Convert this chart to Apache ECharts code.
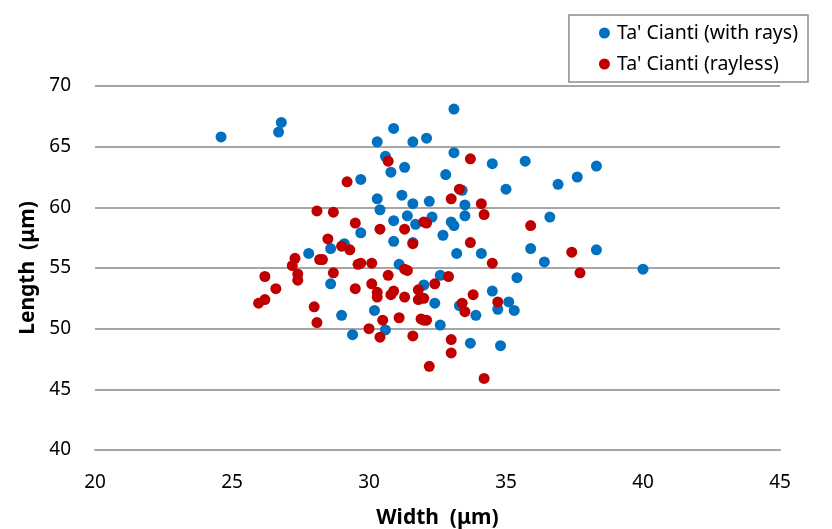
<!DOCTYPE html>
<html><head><meta charset="utf-8">
<script src="https://cdn.jsdelivr.net/npm/echarts@6/dist/echarts.min.js"></script>
<style>html,body{margin:0;padding:0;background:#fff}#c{width:832px;height:529px}</style>
</head><body><div id="c"></div>
<script>
const seriesNames = ["Ta' Cianti (with rays)", "Ta' Cianti (rayless)"];
const xTicks = [20, 25, 30, 35, 40, 45];
const yTicks = [40, 45, 50, 55, 60, 65, 70];
const withRays = [
[24.6,65.8],[26.7,66.2],[26.8,67.0],[29.7,62.3],[33.1,68.1],[30.9,66.5],[30.3,65.4],[31.6,65.4],[32.1,65.7],[30.6,64.2],[33.1,64.5],[34.5,63.6],[31.3,63.3],[30.8,62.9],[32.8,62.7],[35.0,61.5],[33.4,61.4],[30.3,60.7],[31.2,61.0],[31.6,60.3],[32.2,60.5],[33.5,60.2],[30.4,59.8],[33.5,59.3],[31.4,59.3],[32.3,59.2],[33.0,58.8],[33.1,58.5],[31.7,58.6],[30.9,58.9],[29.7,57.9],[32.7,57.7],[30.9,57.2],[31.6,57.1],
[35.7,63.8],[38.3,63.4],[37.6,62.5],[36.9,61.9],[36.6,59.2],
[35.9,56.6],[38.3,56.5],[36.4,55.5],[40.0,54.9],[35.4,54.2],[35.3,51.5],
[33.2,56.2],[34.1,56.2],[31.1,55.3],[32.6,54.4],[32.0,53.6],[34.5,53.1],[32.4,52.1],[33.3,51.9],[33.9,51.1],[34.7,51.6],[35.1,52.2],[30.2,51.5],[30.6,49.9],[32.6,50.3],[33.7,48.8],[34.8,48.6],
[29.1,57.0],[28.6,56.6],[27.8,56.2],[28.6,53.7],[29.0,51.1],[29.4,49.5]
];
const rayless = [
[30.7,63.8],[33.7,64.0],[33.3,61.5],[33.0,60.7],[34.1,60.3],[34.2,59.4],[29.5,58.7],[30.4,58.2],[31.3,58.2],[32.0,58.8],[32.1,58.7],[31.6,57.0],[33.7,57.1],[35.9,58.5],[37.4,56.3],[37.7,54.6],
[29.7,55.4],[30.1,55.4],[34.5,55.4],[31.3,54.9],[31.4,54.8],[30.7,54.4],[32.9,54.3],[32.4,53.7],[30.1,53.7],[29.5,53.3],[30.3,53.0],[30.3,52.6],[30.9,53.1],[30.8,52.8],[31.3,52.6],[31.8,53.2],[31.8,52.4],[32.0,52.5],[33.8,52.8],[33.4,52.1],[33.5,51.4],[34.7,52.2],[30.5,50.7],[31.1,50.9],[31.9,50.8],[32.0,50.7],[32.1,50.7],[30.0,50.0],[30.4,49.3],[31.6,49.4],[33.0,49.1],[33.0,48.0],[32.2,46.9],[34.2,45.9],
[28.5,57.4],[29.0,56.8],[29.3,56.5],[27.3,55.8],[28.2,55.7],[28.3,55.7],[27.2,55.2],[27.4,54.5],[27.4,54.0],[26.2,54.3],[26.6,53.3],[26.2,52.4],[25.97,52.1],[28.7,54.6],[29.6,55.3],[28.0,51.8],[28.1,50.5],
[29.2,62.1],[28.1,59.7],[28.7,59.6]
];
const chart = echarts.init(document.getElementById('c'), null, {renderer:'canvas'});
const font = "'Noto Sans', sans-serif";
chart.setOption({
  animation: false,
  backgroundColor: '#fff',
  grid: {left: 95, right: 52, top: 86, bottom: 79, containLabel: false, outerBoundsMode: 'none'},
  legend: {
    orient: 'vertical', right: 24, top: 15,
    itemWidth: 11, itemHeight: 11, itemGap: 11,
    padding: [8, 10, 8, 30],
    borderColor: '#8c8c8c', borderWidth: 1.5,
    icon: 'circle',
    textStyle: {fontFamily: font, fontSize: 19.5, color: '#000', padding: [0,0,0,2]},
    data: seriesNames
  },
  xAxis: {
    type: 'value', min: xTicks[0], max: xTicks[xTicks.length-1], interval: 5,
    name: 'Width  (μm)', nameLocation: 'middle', nameGap: 58,
    nameTextStyle: {fontFamily: font, fontSize: 21, fontWeight: 'bold', color: '#000'},
    axisLine: {lineStyle: {color: '#a6a6a6', width: 2}},
    axisTick: {show: false},
    axisLabel: {fontFamily: font, fontSize: 19, color: '#000', margin: 23},
    splitLine: {show: false}
  },
  yAxis: {
    type: 'value', min: yTicks[0], max: yTicks[yTicks.length-1], interval: 5,
    name: 'Length  (μm)', nameLocation: 'middle', nameGap: 53, nameRotate: 90,
    nameTextStyle: {fontFamily: font, fontSize: 21, fontWeight: 'bold', color: '#000'},
    axisLine: {show: false},
    axisTick: {show: false},
    axisLabel: {fontFamily: font, fontSize: 19, color: '#000', margin: 24},
    splitLine: {lineStyle: {color: '#a6a6a6', width: 2}}
  },
  series: [
    {name: seriesNames[0], type: 'scatter', data: withRays, symbolSize: 11, itemStyle: {color: '#0070C0', opacity: 1}},
    {name: seriesNames[1], type: 'scatter', data: rayless, symbolSize: 11, itemStyle: {color: '#C00000', opacity: 1}}
  ]
});
</script></body></html>
